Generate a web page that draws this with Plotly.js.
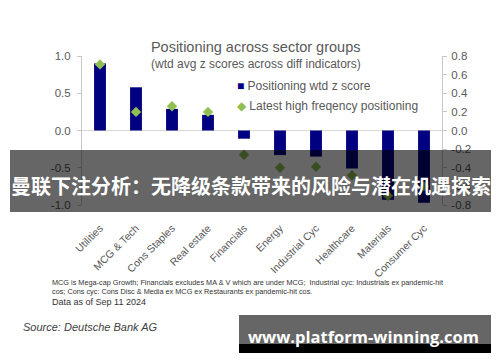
<!DOCTYPE html>
<html>
<head>
<meta charset="utf-8">
<script src="https://cdn.plot.ly/plotly-3.0.1.min.js"></script>
<style>
html,body{margin:0;padding:0;background:#fff;}
#chart{width:500px;height:362px;}
</style>
</head>
<body>
<div id="chart"></div>
<script>
// ---- data ----
const categories = ["Utilities", "MCG & Tech", "Cons Staples", "Real estate", "Financials",
  "Energy", "Industrial Cyc", "Healthcare", "Materials", "Consumer Cyc"];
const positioningZ = [0.90, 0.58, 0.29, 0.21, -0.11, -0.33, -0.35, -0.51, -0.93, -0.97];
const latestHighFreq = [0.71, 0.20, 0.26, 0.20, -0.26, -0.40, -0.39, -0.48, -0.70, -0.60];
const leftTickVals = [-1.0, -0.5, 0.0, 0.5, 1.0];
const leftTickText = ["-1.0", "-0.5", "0.0", "0.5", "1.0"];
const rightTickVals = [-0.8, -0.6, -0.4, -0.2, 0.0, 0.2, 0.4, 0.6, 0.8];
const rightTickText = ["-0.8", "-0.6", "-0.4", "-0.2", "0.0", "0.2", "0.4", "0.6", "0.8"];

// ---- layout helpers (pixel -> paper) ----
const L = 82, R = 442, T = 56, B = 205;
const px = x => (x - L) / (R - L);
const py = y => (B - y) / (B - T);

const grey = "#595959";
const font = "Liberation Sans, Arial, sans-serif";

const traces = [
  {
    type: "bar", x: categories, y: positioningZ, name: "Positioning wtd z score",
    marker: {color: "#000080"}, width: 0.33, yaxis: "y", hoverinfo: "x+y"
  },
  {
    type: "scatter", mode: "markers", x: categories, y: latestHighFreq,
    name: "Latest high freqency positioning", yaxis: "y2",
    marker: {symbol: "diamond", size: 8, color: "#92c050"}
  }
];

const layout = {
  width: 500, height: 362,
  margin: {l: L, r: 500 - R, t: T, b: 362 - B, pad: 0},
  paper_bgcolor: "#fff", plot_bgcolor: "#fff",
  showlegend: false,
  font: {family: font, color: grey, size: 11},
  title: {
    text: "Positioning across sector groups",
    font: {family: font, size: 14.5, color: grey},
    x: px(255.7), xanchor: "center", xref: "paper",
    y: 1 - 47 / 362, yanchor: "middle", yref: "container"
  },
  xaxis: {
    type: "category", range: [-0.5, 9.5],
    tickangle: -45, showline: false, showgrid: false, zeroline: false,
    ticks: "outside", ticklen: 12, tickcolor: "rgba(0,0,0,0)",
    tickfont: {family: font, size: 10.5, color: grey}
  },
  yaxis: {
    range: [-1, 1], tickvals: leftTickVals, ticktext: leftTickText,
    showline: true, linecolor: "#c8c8c8", linewidth: 1,
    ticks: "outside", ticklen: 4, tickcolor: "#c8c8c8",
    showgrid: false, zeroline: true, zerolinecolor: "#d9d9d9", zerolinewidth: 1,
    tickfont: {family: font, size: 11.5, color: grey}, ticklabelstandoff: 4
  },
  yaxis2: {
    overlaying: "y", side: "right", range: [-0.8, 0.8],
    tickvals: rightTickVals, ticktext: rightTickText,
    showline: true, linecolor: "#c8c8c8", linewidth: 1,
    ticks: "outside", ticklen: 4, tickcolor: "#c8c8c8",
    showgrid: false, zeroline: false,
    tickfont: {family: font, size: 11.5, color: grey}, ticklabelstandoff: 2
  },
  shapes: [
    // overlay banner
    {type: "rect", xref: "paper", yref: "paper", layer: "above",
     x0: px(10), x1: px(491), y0: py(150), y1: py(212),
     fillcolor: "rgba(0,0,0,0.6)", line: {width: 0}},
    // watermark box
    {type: "rect", xref: "paper", yref: "paper", layer: "above",
     x0: px(239), x1: px(491), y0: py(315), y1: py(344),
     fillcolor: "#666666", line: {width: 0}},
    {type: "rect", xref: "paper", yref: "paper", layer: "above",
     x0: px(239), x1: px(491), y0: py(344), y1: py(353),
     fillcolor: "#000000", line: {width: 0}}
  ],
  annotations: [
    {text: "(wtd avg z scores across diff indicators)", xref: "paper", yref: "paper",
     x: px(255.5), y: py(64), xanchor: "center", yanchor: "middle", showarrow: false,
     font: {family: font, size: 12, color: grey}},
    {text: "<span style='color:#000080'>■</span> Positioning wtd z score", xref: "paper", yref: "paper",
     x: px(235), y: py(86), xanchor: "left", yanchor: "middle", showarrow: false,
     font: {family: font, size: 12, color: grey}},
    {text: "<span style='color:#92c050'>◆</span> Latest high freqency positioning", xref: "paper", yref: "paper",
     x: px(235), y: py(106), xanchor: "left", yanchor: "middle", showarrow: false,
     font: {family: font, size: 12, color: grey}},
    {text: "MCG is Mega-cap Growth; Financials excludes MA & V which are under MCG;  Industrial cyc: Industrials ex pandemic-hit<br>cos; Cons cyc: Cons Disc & Media ex MCG ex Restaurants ex pandemic-hit cos.",
     xref: "paper", yref: "paper", x: px(50), y: py(276), xanchor: "left", yanchor: "top",
     align: "left", showarrow: false, font: {family: font, size: 7.3, color: "#333333"}},
    {text: "Data as of Sep 11 2024", xref: "paper", yref: "paper",
     x: px(50), y: py(302), xanchor: "left", yanchor: "middle", showarrow: false,
     font: {family: font, size: 9, color: "#333333"}},
    {text: "<i>Source: Deutsche Bank AG</i>", xref: "paper", yref: "paper",
     x: px(21), y: py(327), xanchor: "left", yanchor: "middle", showarrow: false,
     font: {family: font, size: 11, color: "#404040"}},
    {text: "<b>曼联下注分析：无降级条款带来的风险与潜在机遇探索</b>", xref: "paper", yref: "paper",
     x: px(250.5), y: py(185), xanchor: "center", yanchor: "middle", showarrow: false,
     font: {family: "Noto Sans CJK SC, sans-serif", size: 20, color: "#ffffff"}},
    {text: "<b>www.platform-winning.com</b>", xref: "paper", yref: "paper",
     x: px(363.5), y: py(336), xanchor: "center", yanchor: "middle", showarrow: false,
     font: {family: "Open Sans, sans-serif", size: 16.5, color: "#ffffff"}}
  ]
};

Plotly.newPlot("chart", traces, layout, {displayModeBar: false, staticPlot: true});
</script>
</body>
</html>
